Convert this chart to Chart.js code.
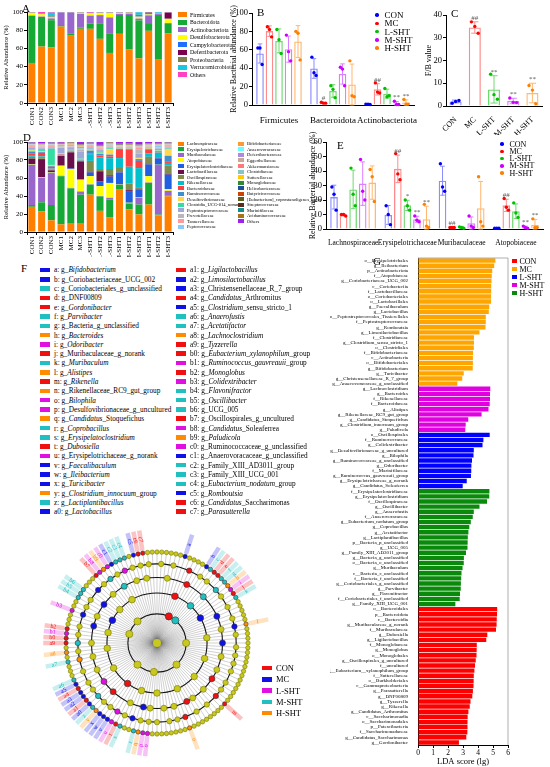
<!DOCTYPE html>
<html lang="en">
<head>
<meta charset="UTF-8">
<title>Gut microbiota composition and LEfSe</title>
<script src="https://cdn.jsdelivr.net/npm/chart.js"></script>
<style>
  body { margin: 0; background: #fff; font-family: 'Liberation Serif', 'Times New Roman', serif; color: #000; }
  #page { position: relative; width: 550px; height: 767px; overflow: hidden; }
  canvas { position: absolute; }
  .letter { position: absolute; font-size: 11px; line-height: 11px; }
</style>
</head>
<body>
<div id="page">
  <canvas id="cA" width="176" height="128" style="left:0;top:0"></canvas>
  <canvas id="cD" width="176" height="127" style="left:0;top:130px"></canvas>
  <canvas id="cB" width="191" height="125" style="left:229px;top:0"></canvas>
  <canvas id="cC" width="122" height="135" style="left:424px;top:0"></canvas>
  <canvas id="cE" width="242" height="115" style="left:308px;top:132px"></canvas>
  <canvas id="cG" width="182" height="517" style="left:330px;top:250px"></canvas>
  <canvas id="cF" width="250" height="250" style="left:32px;top:518px"></canvas>
  <div class="letter" style="left:22px;top:3px">A</div>
  <div class="letter" style="left:257px;top:7px">B</div>
  <div class="letter" style="left:451px;top:8px">C</div>
  <div class="letter" style="left:23px;top:132px">D</div>
  <div class="letter" style="left:337px;top:140px">E</div>
  <div class="letter" style="left:21px;top:263px">F</div>
  <div class="letter" style="left:373px;top:256px">G</div>
</div>
<script>
// ---- samples (A, D) ----
const sampleNames = ['CON1','CON2','CON3','MC1','MC2','MC3','L-SHT1','L-SHT2','L-SHT3','M-SHT1','M-SHT2','M-SHT3','H-SHT1','H-SHT2','H-SHT3'];

// A: phylum level (%)
const firmicutes        = [44,62,61,84,74,81.5,81.5,70.5,55,76,58.7,49,79.3,48.3,76.4];
const bacteroidota      = [51.6,32.5,30,1.6,2,1.5,6,16.5,21,20.7,38,41.8,8.5,48.4,10.6];
const actinobacteriota  = [0.5,0.5,2,13.5,23.1,15.1,8.5,9.5,18,1.3,1.6,2,8.5,1,1];
const desulfobacterota  = [3,2.5,1,0,0,1,2.5,2.5,5,1,0.8,2,1,0.3,4.5];
const campylobacterota  = [0.1,0.1,0.1,0.1,0.1,0.1,0.1,0.1,0.1,0.1,0.1,0.5,1,0.1,0.1];
const deferribacterota  = [0.1,0.1,0.1,0.1,0.1,0.1,0.1,0.1,0.1,0.1,0.1,0.1,1,0.1,6.7];
const proteobacteria    = [0.2,0.2,1,0.2,0.2,0.2,0.2,0.2,0.2,0.2,0.2,1.5,0.2,0.2,0.2];
const verrucomicrobiota = [0.2,0.2,4,0.2,0.2,0.2,0.2,0.2,0.2,0.2,0.2,2.8,0.2,1.3,0.2];
const otherPhyla        = [0.3,1.9,1,0.3,0.3,0.3,0.9,0.3,0.3,0.3,0.3,0.3,0.3,0.3,0.3];
const phylumNames = ['Firmicutes','Bacteroidota','Actinobacteriota','Desulfobacterota','Campylobacterota','Deferribacterota','Proteobacteria','Verrucomicrobiota','Others'];
const phylumColors = ['#ff7f00','#17a935','#9966cc','#ffff00','#1f6fff','#7a0050','#80804a','#18c8e0','#ff40c0'];

// D: family level (%)
const lachno     = [28,23,13,8.5,10,10,41.5,23.5,16.5,47,25,19.5,30.5,18.4,39.7];
const erysipelo  = [2,10,17,53.5,38.5,31.5,11,16,19.5,5.5,6.5,11,24,1,1];
const murib      = [44.5,27,35.5,0.5,0.5,3.5,0.5,0.5,2,0.3,0.5,7.5,0.5,55,5];
const atopo      = [0.5,0.5,0.5,11,21,13,9,11,16.5,0.3,0.5,0.5,7,0.3,2];
const erysClost  = [0.5,0.5,0.5,0.5,0.5,0.5,4,5.5,7,13,13,9,13,7,16];
const lacto      = [6,20,2,10.5,18,20,1,11,1.5,0.5,1,0.5,1,0.5,1];
const oscill     = [2,1,1,0.5,0.5,0.5,12,2.5,7,4.5,7.5,1,7.5,1,9];
const riken      = [2,2,1,0.5,0.5,0.5,7.5,13,12,11,18.5,22,4,5,3];
const bactero    = [2,4,2,0.5,0.5,0.5,1,2,2,10,19,8,4,0.5,2];
const rumino     = [2,1,1,0.5,0.5,0.5,3,2,2,0.5,1,2,1,1,6];
const desulfo    = [1,1,1,0.5,0.5,0.5,1,1,6,0.5,0.5,1,1,0.5,7];
const clostUCG   = [1,1,18,0.5,0.5,0.5,1,1,1,0.3,0.5,1,0.5,0.5,1];
const peptostrep = [2,2,1,6,2.7,8,1,2,1,0.5,0.5,4,0.5,2,1];
const prevot     = [1,1,1,0.5,0.5,2,1,1,1,0.5,0.5,5,0.5,1,1];
const tanner     = [1,1,1,0.5,0.5,0.5,1,1,1,0.5,0.5,2,0.5,0.5,1];
const peptoc     = [1,1,1,0.5,0.5,1,1,1,1,0.3,0.5,0.5,0.5,2,1];
const bifido     = [0.2,0.2,0.2,1.5,1.5,2,0.2,0.2,0.2,0.2,0.2,0.2,0.2,0.2,0.2];
const anaerovor  = [0.2,0.2,0.2,0.2,0.2,0.2,0.2,0.2,0.2,0.2,0.2,0.2,0.2,0.2,0.2];
const deferri    = [0.2,0.2,0.2,0.2,0.2,0.2,0.2,0.2,0.2,0.2,0.2,0.2,0.2,0.2,0.2];
const eggerth    = [0.2,0.2,0.2,0.2,0.2,0.2,0.2,0.2,0.2,0.2,0.2,0.2,0.2,0.2,0.2];
const akkerm     = [0.2,0.2,0.2,0.2,0.2,0.2,0.2,0.2,0.2,0.2,0.2,0.2,0.2,0.2,0.2];
const clostrid   = [0.2,0.2,0.2,0.2,0.2,0.2,0.2,0.2,0.2,0.2,0.2,0.2,0.2,0.2,0.2];
const sutter     = [0.2,0.2,0.2,0.2,0.2,0.2,0.2,0.2,0.2,0.2,0.2,0.2,0.2,0.2,0.2];
const monoglob   = [0.2,0.2,0.2,0.2,0.2,0.2,0.2,0.2,0.2,0.2,0.2,0.2,0.2,0.2,0.2];
const helico     = [0.2,0.2,0.2,0.2,0.2,0.2,0.2,0.2,0.2,0.2,0.2,0.2,0.2,0.2,0.2];
const butyric    = [0.2,0.2,0.2,0.2,0.2,0.2,0.2,0.2,0.2,0.2,0.2,0.2,0.2,0.2,0.2];
const eubCopro   = [0.2,0.2,0.2,0.2,0.2,0.2,0.2,0.2,0.2,0.2,0.2,0.2,0.2,0.2,0.2];
const strepto    = [0.2,0.2,0.2,0.2,0.2,0.2,0.2,0.2,0.2,0.2,0.2,0.2,0.2,0.2,0.2];
const marinif    = [0.2,0.2,0.2,0.2,0.2,0.2,0.2,0.2,0.2,0.2,0.2,0.2,0.2,0.2,0.2];
const acidamino  = [0.2,0.2,0.2,0.2,0.2,0.2,0.2,0.2,0.2,0.2,0.2,0.2,0.2,0.2,0.2];
const otherFam   = [0.7,1.2,0.7,0.9,0.2,2.4,0.7,3.2,0.2,2.0,1.7,2.7,1.2,1.0,0.5];
const familyNames = ['Lachnospiraceae','Erysipelotrichaceae','Muribaculaceae','Atopobiaceae','Erysipelatoclostridiaceae','Lactobacillaceae','Oscillospiraceae','Rikenellaceae','Bacteroidaceae','Ruminococcaceae','Desulfovibrionaceae','Clostridia_UCG-014_norank','Peptostreptococcaceae','Prevotellaceae','Tannerellaceae','Peptococcaceae',
  'Bifidobacteriaceae','Anaerovoracaceae','Deferribacteraceae','Eggerthellaceae','Akkermansiaceae','Clostridiaceae','Sutterellaceae','Monoglobaceae','Helicobacteraceae','Butyricicoccaceae','[Eubacterium]_coprostanoligenes_group','Streptococcaceae','Marinifilaceae','Acidaminococcaceae','Others'];
const familyColors = ['#ff7f00','#17a935','#9966cc','#ffff00','#1f5fe0','#6b0f4a','#7f8c4a','#00c0d0','#ff4040','#3f8fd0','#ffd84d','#33dda0','#a0a8d8','#b8b8b8','#ff9a9a','#8ccaf5',
  '#ff9933','#66ffff','#a98de0','#c8a896','#ff7b7b','#88c4c4','#ffcc00','#2e8b2e','#1c4f9c','#cc4400','#5c5c1f','#5a2e1e','#148c8c','#a8741a','#a020f0'];

// ---- groups (B, C, E) ----
const groupNames = ['CON','MC','L-SHT','M-SHT','H-SHT'];
const dotColors  = ['#0000ff','#ff0000','#00c000','#cc00ff','#ff8000'];
const edgeColors = ['#8c8cff','#ff8c8c','#70d870','#dd80ff','#ffb870'];

// B: phylum abundance (%)
const bCats = ['Firmicutes','Bacteroidota','Actinobacteriota'];
const bCON = [56, 39.7, 0.8],   bCONsd = [10.4, 10.7, 0.3], bCONdots = [[62,62,44],[52,35,32],[1,1,0.5]], bCONmarks = ['','',''];
const bMC  = [80.3, 2.3, 17],   bMCsd  = [5.7, 0.6, 6.1],   bMCdots  = [[85,82,74],[3,2,2],[24,14,13]],   bMCmarks  = ['','#','##'];
const bL   = [69.7, 15.3, 12.3], bLsd  = [13, 6.8, 4.9],    bLdots   = [[82,71,56],[21,17,8],[18,9,10]],  bLmarks   = ['','',''];
const bM   = [60.7, 33.7, 1.7], bMsd   = [14.2, 11, 2],     bMdots   = [[76,58,48],[41,39,21],[4,0.5,0.5]], bMmarks = ['','','**'];
const bH   = [69, 22.3, 2.7],   bHsd   = [17.3, 22.2, 2.9], bHdots   = [[80,78,49],[48,10,9],[6,1,1]],    bHmarks   = ['','','**'];

// C: F/B ratio
const cMean  = [2, 34.5, 7.3, 2.2, 5.7];
const cSd    = [0.6, 2.5, 6, 1.2, 4.3];
const cDots  = [[1.2,2,2.4],[37,35,32],[14,5,3],[3.5,1.6,1.5],[9,7,1]];
const cMarks = ['', '##', '**', '**', '**'];

// E: family abundance (%)
const eCats = ['Lachnospiraceae','Erysipelotrichaceae','Muribaculaceae','Atopobiaceae'];
const eCON = [22, 9.7, 33.3, 0.5],  eCONsd = [8.2, 6.5, 10, 0.2],  eCONdots = [[29,24,13],[16,10,3],[45,29,26],[0.5,0.5,0.5]], eCONmarks = ['','','',''];
const eMC  = [9.7, 41.5, 1, 16.3],  eMCsd  = [0.6, 9.5, 0.3, 4.2], eMCdots  = [[10,10,9],[52,38,34],[1,1,1],[21,15,13]],     eMCmarks  = ['','##','##','##'];
const eL   = [27.3, 16.3, 1, 12.3], eLsd   = [13.3, 3.5, 0.5, 5],  eLdots   = [[42,24,16],[20,16,13],[1.5,1,0.5],[18,11,8]],  eLmarks   = ['','*','',''];
const eM   = [31.3, 6.7, 4, 1.2],   eMsd   = [15, 2.1, 4.3, 0.8],  eMdots   = [[48,26,20],[9,6,5],[9,2,1],[2,1,0.5]],         eMmarks   = ['','**','','**'];
const eH   = [32, 6.7, 14.3, 3],    eHsd   = [11.5, 9, 18.5, 3.5], eHdots   = [[41,36,19],[17,2,1],[36,5,2],[7,1,1]],         eHmarks   = ['','**','','**'];

// G: LDA scores
const ldaMcNames = ['o__Erysipelotrichales','g__Ileibacterium','p__Actinobacteriota','f__Atopobiaceae','g__Coriobacteriaceae_UCG_002','c__Coriobacteriia','f__Lactobacillaceae','o__Coriobacteriales','o__Lactobacillales','g__Faecalibaculum','g__Lactobacillus','o__Peptostreptococcales_Tissierellales','f__Peptostreptococcaceae','g__Romboutsia','g__Limosilactobacillus','f__Clostridiaceae','g__Clostridium_sensu_stricto_1','o__Clostridiales','f__Bifidobacteriaceae','c__Actinobacteria','o__Bifidobacteriales','g__Bifidobacterium','g__Turicibacter','g__Christensenellaceae_R_7_group','g__Anaerovoracaceae_g_unclassified'];
const ldaMcScores = [5.16,5.08,4.95,4.92,4.9,4.88,4.88,4.87,4.87,4.75,4.72,4.52,4.52,4.5,4.1,3.73,3.73,3.72,3.67,3.66,3.66,3.65,3.05,2.95,2.62];
const ldaMNames = ['g__Lachnoclostridium','g__Bacteroides','f__Rikenellaceae','f__Bacteroidaceae','g__Alistipes','g__Rikenellaceae_RC9_gut_group','g__Candidatus_Stoquefichus','g__Clostridium_innocuum_group','g__Paludicola'];
const ldaMScores = [4.82,4.8,4.8,4.78,4.7,4.24,3.35,3.18,3.15];
const ldaLNames = ['o__Oscillospirales','f__Ruminococcaceae','g__Colidextribacter','g__Desulfovibrionaceae_g_uncultured','g__Bilophila','g__Ruminococcaceae_g_unclassified','g__Odoribacter','f__Marinifilaceae','g__Ruminococcus_gauvreauii_group','g__Erysipelotrichaceae_g_norank','g__Candidatus_Soleaferrea'];
const ldaLScores = [4.78,4.36,4.3,3.72,3.7,3.6,3.56,3.55,3.53,3.25,2.98];
const ldaHNames = ['f__Erysipelatoclostridiaceae','g__Erysipelatoclostridium','f__Oscillospiraceae','g__Oscillibacter','g__Anaerofustis','f__Anaerovoracaceae','g__Eubacterium_nodatum_group','g__Coprobacillus','g__Acetatifactor','g__Lactiplantibacillus','p__Bacteria_p_unclassified','g__UCG_005','g__Family_XIII_AD3011_group','g__Bacteria_g_unclassified','o__Bacteria_o_unclassified','g__Muribaculum','c__Bacteria_c_unclassified','f__Bacteria_f_unclassified','g__Coriobacteriales_g_unclassified','g__Parvibacter','g__Flavonifractor','f__Coriobacteriales_f_unclassified','g__Family_XIII_UCG_001'];
const ldaHScores = [4.76,4.75,4.6,4.1,3.72,3.65,3.52,3.42,3.36,3.32,3.31,3.3,3.2,3.06,3.05,2.97,2.9,2.88,2.86,2.85,2.8,2.78,2.49];
const ldaConNames = ['o__Bacteroidales','p__Bacteroidota','c__Bacteroidia','g__Muribaculaceae_g_norank','f__Muribaculaceae','g__Dubosiella','g__Ligilactobacillus','f__Monoglobaceae','g__Monoglobus','o__Monoglobales','g__Oscillospirales_g_uncultured','f__uncultured','g__Eubacterium__xylanophilum_group','f__Sutterellaceae','o__Burkholderiales','c__Gammaproteobacteria','g__Parasutterella','g__DNF00809','g__Tyzzerella','g__Rikenella','g__Candidatus_Arthromitus','c__Saccharimonadia','o__Saccharimonadales','p__Patescibacteria','f__Saccharimonadaceae','g__Candidatus_Saccharimonas','g__Gordonibacter'];
const ldaConScores = [5.28,5.27,5.25,5.24,5.2,4.62,4.55,3.92,3.91,3.9,3.85,3.8,3.76,3.72,3.71,3.7,3.66,3.62,3.5,3.45,3.36,3.31,3.3,3.3,3.29,3.22,2.73];
const ldaLegendColors = ['#ff0000','#ffa500','#0000ff','#e000e0','#0a8a0a'];

// F: cladogram biomarkers (colour index: 0 CON, 1 MC, 2 L-SHT, 3 M-SHT, 4 H-SHT)
const cladeColors = ['#f01010','#1010e8','#e010e0','#20c0c0','#ff8c00'];
const tagLetters = ['a','b','c','d','e','f','g','h','i','j','k','l','m','n','o','p','q','r','s','t','u','v','w','x','y','z','a0',
  'a1','a2','a3','a4','a5','a6','a7','a8','a9','b0','b1','b2','b3','b4','b5','b6','b7','b8','b9','c0','c1','c2','c3','c4','c5','c6','c7'];
const tagNames = ['g_*Bifidobacterium*','g_Coriobacteriaceae_UCG_002','g_Coriobacteriales_g_unclassified','g_DNF00809','g_*Gordonibacter*','g_*Parvibacter*','g_Bacteria_g_unclassified','g_*Bacteroides*','g_*Odoribacter*','g_Muribaculaceae_g_norank','g_*Muribaculum*','g_*Alistipes*','g_*Rikenella*','g_Rikenellaceae_RC9_gut_group','g_*Bilophila*','g_Desulfovibrionaceae_g_uncultured','g_*Candidatus*_Stoquefichus','g_*Coprobacillus*','g_*Erysipelatoclostridium*','g_*Dubosiella*','g_Erysipelotrichaceae_g_norank','g_*Faecalibaculum*','g_*Ileibacterium*','g_*Turicibacter*','g_*Clostridium_innocuum*_group','g_*Lactiplantibacillus*','g_*Lactobacillus*',
  'g_*Ligilactobacillus*','g_*Limosilactobacillus*','g_Christensenellaceae_R_7_group','g_*Candidatus*_Arthromitus','g_*Clostridium*_sensu_stricto_1','g_*Anaerofustis*','g_*Acetatifactor*','g_*Lachnoclostridium*','g_*Tyzzerella*','g_*Eubacterium_xylanophilum*_group','g_*Ruminococcus_gauvreauii*_group','g_*Monoglobus*','g_*Colidextribacter*','g_*Flavonifractor*','g_*Oscillibacter*','g_UCG_005','g_Oscillospirales_g_uncultured','g_*Candidatus*_Soleaferrea','g_*Paludicola*','g_Ruminococcaceae_g_unclassified','g_Anaerovoracaceae_g_unclassified','g_Family_XIII_AD3011_group','g_Family_XIII_UCG_001','g_*Eubacterium_nodatum*_group','g_*Romboutsia*','g_*Candidatus*_Saccharimonas','g_*Parasutterella*'];
const tagGroups = [1,1,3,0,0,3,3,4,2,0,3,4,0,4,2,2,4,3,3,0,2,1,1,1,4,3,1,
  0,1,1,0,1,3,3,4,0,0,2,0,2,3,3,3,0,2,4,2,1,3,3,3,1,0,0];
const tagSlots = [6,11,12,13,14,15,16,17,18,19,20,26,44,53,62,63,64,65,68,69,70,71,72,73,74,75,76,77,78,79,80,81,82,86,88,90,91,92,93,97,100,101,102,106,107,108,109,110,111,112,113,115,116,117];
const cladeSlotCount = 120;
const ringValue = [1.6, 2.75, 3.6, 4.35, 5];
const ringSize  = [3.6, 3.3, 3.0, 2.7, 2.2];
const phylumSlots = [8,13,30,46,62,74,96,106];
const classSlots  = [7,14,20,28,36,44,52,60,66,72,80,88,94,99,104,110];
const orderSlots  = [3,9,15,22,26,30,34,38,41,45,49,51,55,58,62,64,68,74,78,82,86,90,95,98,102,106,110,114,117];
const familySlots = [1,4,8,11,13,16,18,21,24,26,28,31,33,35,37,40,42,44,47,50,53,55,57,60,62,64,66,68,70,72,74,76,78,80,83,86,88,90,92,94,97,99,101,104,106,108,110,112,114,116,118];
const hiSlot  = [8,7,9,8,13,14,15,16,20,22,26,30,41,44,51,53,64,66,72,74,70,76,78,86,90,95,97,99,102,104,108,110,112];
const hiLevel = [1,2,3,4,1,2,3,4,2,3,4,3,3,4,3,4,3,4,2,3,4,4,3,4,4,3,4,2,3,4,4,3,4];
const hiGroup = [0,0,0,0,3,3,3,3,1,1,1,1,0,0,0,0,1,1,0,0,2,3,2,4,3,1,1,1,1,1,3,3,2];

// ---------------------------------------------------------------
Chart.defaults.font.family = "'Liberation Serif', 'Times New Roman', serif";
Chart.defaults.font.size = 8;
Chart.defaults.color = '#000';
Chart.defaults.animation = false;
Chart.defaults.events = [];
Chart.defaults.plugins.legend.display = false;
Chart.defaults.plugins.tooltip.enabled = false;

const page = document.getElementById('page');
const tickGrid = { drawOnChartArea: false, color: '#000', tickLength: 3, lineWidth: 1 };
const blackBorder = { color: '#000', width: 1 };
const fixW = w => s => { s.width = w; s.paddingTop = 0; s.paddingBottom = 0; };
const fixH = h => s => { s.height = h; s.paddingLeft = 0; s.paddingRight = 0; };

// error bars, points and significance marks on top of the bars
const errDots = {
  id: 'errDots',
  afterDatasetsDraw(chart) {
    const ctx = chart.ctx, y = chart.scales.y;
    chart.data.datasets.forEach((ds, di) => {
      chart.getDatasetMeta(di).data.forEach((bar, i) => {
        const pick = v => Array.isArray(v) ? v[i] : v;
        const m = ds.data[i], sd = ds.sd[i];
        const yTop = y.getPixelForValue(m + sd), yBot = y.getPixelForValue(Math.max(m - sd, 0));
        const cap = bar.width * 0.3;
        ctx.save();
        ctx.strokeStyle = pick(ds.borderColor);
        ctx.lineWidth = 1;
        ctx.beginPath();
        ctx.moveTo(bar.x, yTop); ctx.lineTo(bar.x, yBot);
        ctx.moveTo(bar.x - cap, yTop); ctx.lineTo(bar.x + cap, yTop);
        ctx.moveTo(bar.x - cap, yBot); ctx.lineTo(bar.x + cap, yBot);
        ctx.stroke();
        ctx.fillStyle = pick(ds.dotColor);
        ds.dots[i].forEach((v, k) => {
          ctx.beginPath();
          ctx.arc(bar.x + (k - 1) * bar.width * 0.28, y.getPixelForValue(v), 1.7, 0, Math.PI * 2);
          ctx.fill();
        });
        if (ds.marks[i]) {
          ctx.fillStyle = '#555';
          ctx.font = "7px 'Liberation Serif'";
          ctx.textAlign = 'center';
          ctx.textBaseline = 'bottom';
          ctx.fillText(ds.marks[i], bar.x, yTop - 0.5);
        }
        ctx.restore();
      });
    });
  }
};

function legend(left, top, rowH, labels, colors, o) {
  const box = document.createElement('div');
  box.style.cssText = `position:absolute;left:${left}px;top:${top}px;font-size:${o.font}px;`;
  labels.forEach((t, k) => {
    const row = document.createElement('div');
    row.style.cssText = `height:${rowH}px;display:flex;align-items:center;white-space:nowrap;`;
    row.innerHTML = `<span style="display:inline-block;flex:none;width:${o.w}px;height:${o.h}px;background:${colors[k]};border-radius:${o.round ? '50%' : '0'};margin-right:${o.gap}px"></span>${t}`;
    box.appendChild(row);
  });
  page.appendChild(box);
}

// ---- A and D: stacked composition ----
function stackChart(id, names, series, colors, padTop) {
  new Chart(document.getElementById(id), {
    type: 'bar',
    data: {
      labels: sampleNames,
      datasets: series.map((d, k) => ({ label: names[k], data: d, backgroundColor: colors[k], borderWidth: 0, barPercentage: 0.72, categoryPercentage: 1 }))
    },
    options: {
      responsive: false,
      layout: { padding: { top: padTop, right: 3 } },
      scales: {
        x: { stacked: true, border: blackBorder, grid: tickGrid,
             ticks: { autoSkip: false, minRotation: 90, maxRotation: 90, font: { size: 7 }, padding: 1 }, afterFit: fixH(25) },
        y: { stacked: true, min: 0, max: 100, border: blackBorder, grid: tickGrid,
             ticks: { stepSize: 20, font: { size: 7 }, padding: 1 },
             title: { display: true, text: 'Relative Abundance (%)', font: { size: 6.5 }, padding: { top: 2, bottom: 0 } },
             afterFit: fixW(27) }
      }
    }
  });
}
stackChart('cA', phylumNames,
  [firmicutes, bacteroidota, actinobacteriota, desulfobacterota, campylobacterota, deferribacterota, proteobacteria, verrucomicrobiota, otherPhyla],
  phylumColors, 12);
stackChart('cD', familyNames,
  [lachno, erysipelo, murib, atopo, erysClost, lacto, oscill, riken, bactero, rumino, desulfo, clostUCG, peptostrep, prevot, tanner, peptoc,
   bifido, anaerovor, deferri, eggerth, akkerm, clostrid, sutter, monoglob, helico, butyric, eubCopro, strepto, marinif, acidamino, otherFam],
  familyColors, 12);
legend(178, 11.2, 7.5, phylumNames, phylumColors, { font: 5.8, w: 9, h: 5, gap: 3 });
legend(178, 141.2, 5.53, familyNames.slice(0, 16), familyColors.slice(0, 16), { font: 4.6, w: 6, h: 4, gap: 3 });
legend(238, 141.2, 5.53, familyNames.slice(16), familyColors.slice(16), { font: 4.6, w: 6, h: 4, gap: 3 });

// ---- B and E: grouped bars with points ----
function groupChart(id, cats, sets, o) {
  new Chart(document.getElementById(id), {
    type: 'bar',
    data: {
      labels: cats,
      datasets: sets.map((s, k) => ({
        label: groupNames[k], data: s[0], sd: s[1], dots: s[2], marks: s[3],
        backgroundColor: 'rgba(255,255,255,0)', borderColor: edgeColors[k], dotColor: dotColors[k],
        borderWidth: 1.3, barPercentage: 0.8, categoryPercentage: 0.88
      }))
    },
    options: {
      responsive: false,
      layout: { padding: { top: o.top, right: o.right } },
      scales: {
        x: { border: blackBorder, grid: { display: false },
             ticks: { autoSkip: false, minRotation: 0, maxRotation: 0, font: { size: o.xFont }, padding: 2 }, afterFit: fixH(o.xH) },
        y: { min: 0, max: o.max, border: blackBorder, grid: tickGrid,
             ticks: { stepSize: o.step, font: { size: 8.5 }, padding: 1 },
             title: { display: true, text: 'Relative Bacterial abundance (%)', font: { size: 8 }, padding: 0 },
             afterFit: fixW(o.yW) }
      }
    },
    plugins: [errDots]
  });
}
groupChart('cB', bCats, [
  [bCON, bCONsd, bCONdots, bCONmarks], [bMC, bMCsd, bMCdots, bMCmarks], [bL, bLsd, bLdots, bLmarks],
  [bM, bMsd, bMdots, bMmarks], [bH, bHsd, bHdots, bHmarks]
], { top: 13, right: 6, max: 100, step: 20, xFont: 9, xH: 20, yW: 23 });
groupChart('cE', eCats, [
  [eCON, eCONsd, eCONdots, eCONmarks], [eMC, eMCsd, eMCdots, eMCmarks], [eL, eLsd, eLdots, eLmarks],
  [eM, eMsd, eMdots, eMmarks], [eH, eHsd, eHdots, eHmarks]
], { top: 10, right: 7, max: 60, step: 10, xFont: 7.5, xH: 18, yW: 18 });
legend(375, 10.9, 8.3, groupNames, dotColors, { font: 9, w: 3.5, h: 3.5, round: true, gap: 6 });
legend(500, 140.4, 7.3, groupNames, dotColors, { font: 8, w: 3.5, h: 3.5, round: true, gap: 6 });

// ---- C: F/B ratio ----
new Chart(document.getElementById('cC'), {
  type: 'bar',
  data: {
    labels: groupNames,
    datasets: [{ data: cMean, sd: cSd, dots: cDots, marks: cMarks,
      backgroundColor: 'rgba(255,255,255,0)', borderColor: edgeColors, dotColor: dotColors,
      borderWidth: 1.3, barPercentage: 0.7, categoryPercentage: 0.9 }]
  },
  options: {
    responsive: false,
    layout: { padding: { top: 15, right: 4 } },
    scales: {
      x: { border: blackBorder, grid: { display: false },
           ticks: { autoSkip: false, minRotation: 45, maxRotation: 45, font: { size: 8 }, padding: 1 }, afterFit: fixH(29) },
      y: { min: 0, max: 40, border: blackBorder, grid: tickGrid,
           ticks: { stepSize: 10, font: { size: 8.5 }, padding: 1 },
           title: { display: true, text: 'F/B value', font: { size: 8 }, padding: 0 },
           afterFit: fixW(22) }
    }
  },
  plugins: [errDots]
});

// ---- G: LDA bars ----
const ldaNames  = [...ldaMcNames, ...ldaMNames, ...ldaLNames, ...ldaHNames, ...ldaConNames];
const ldaScores = [...ldaMcScores, ...ldaMScores, ...ldaLScores, ...ldaHScores, ...ldaConScores];
const ldaColors = [
  ...ldaMcNames.map(() => ldaLegendColors[1]), ...ldaMNames.map(() => ldaLegendColors[3]),
  ...ldaLNames.map(() => ldaLegendColors[2]), ...ldaHNames.map(() => ldaLegendColors[4]),
  ...ldaConNames.map(() => ldaLegendColors[0])
];
const frame = {
  id: 'frame',
  afterDraw(chart) {
    const { ctx, chartArea: a } = chart;
    ctx.save();
    ctx.strokeStyle = '#999';
    ctx.lineWidth = 0.8;
    ctx.beginPath();
    ctx.moveTo(a.left, a.top); ctx.lineTo(a.right, a.top); ctx.lineTo(a.right, a.bottom);
    ctx.stroke();
    ctx.restore();
  }
};
new Chart(document.getElementById('cG'), {
  type: 'bar',
  data: { labels: ldaNames, datasets: [{ data: ldaScores, backgroundColor: ldaColors, borderWidth: 0, barPercentage: 0.86, categoryPercentage: 1 }] },
  options: {
    indexAxis: 'y',
    responsive: false,
    layout: { padding: { top: 8, right: 4 } },
    scales: {
      y: { border: blackBorder, grid: { display: false }, ticks: { autoSkip: false, font: { size: 5 }, padding: 2 }, afterFit: fixW(88) },
      x: { min: 0, max: 6, border: blackBorder, grid: tickGrid, ticks: { stepSize: 1, font: { size: 7.5 }, padding: 1 },
           title: { display: true, text: 'LDA score (lg)', font: { size: 8.5 }, padding: 0 }, afterFit: fixH(22) }
    }
  },
  plugins: [frame]
});
legend(512, 257, 8, groupNames, ldaLegendColors, { font: 8, w: 4.5, h: 4.5, gap: 3 });

// ---- F: cladogram on a radial scale ----
const slotLabels = Array.from({ length: cladeSlotCount }, (_, i) => String(i));
const genusSlots = slotLabels.map((_, i) => i);
const ringSlots = [phylumSlots, classSlots, orderSlots, familySlots, genusSlots];
const cladeSets = ringValue.map((v, L) => {
  const data = slotLabels.map(() => null);
  const fill = slotLabels.map(() => '#c8c81e');
  const edge = slotLabels.map(() => '#767600');
  ringSlots[L].forEach(s => { data[s] = v; });
  const mark = (s, g) => { data[s] = v; fill[s] = cladeColors[g]; edge[s] = '#333'; };
  hiSlot.forEach((s, k) => { if (hiLevel[k] === L + 1) mark(s, hiGroup[k]); });
  if (L === 4) tagSlots.forEach((s, k) => mark(s, tagGroups[k]));
  return { data, pointBackgroundColor: fill, pointBorderColor: edge, pointBorderWidth: 0.6,
           pointRadius: ringSize[L], borderWidth: 0, borderColor: 'rgba(0,0,0,0)', fill: false };
});
const rootData = slotLabels.map((_, i) => i === 0 ? 0 : null);
cladeSets.push({ data: rootData, pointBackgroundColor: '#c8c81e', pointBorderColor: '#767600', pointRadius: 4, borderWidth: 0, borderColor: 'rgba(0,0,0,0)', fill: false });

const cladeTags = {
  id: 'cladeTags',
  beforeDatasetsDraw(chart) {
    const r = chart.scales.r, ctx = chart.ctx;
    tagSlots.forEach((s, k) => {
      const c = cladeColors[tagGroups[k]];
      const a = r.getPointPositionForValue(s, 5.15), b = r.getPointPositionForValue(s, 6.25);
      ctx.save();
      ctx.strokeStyle = c;
      ctx.globalAlpha = 0.25;
      ctx.lineWidth = 4.5;
      ctx.beginPath(); ctx.moveTo(a.x, a.y); ctx.lineTo(b.x, b.y); ctx.stroke();
      ctx.globalAlpha = 1;
      const t = r.getPointPositionForValue(s, 5.6);
      const ang = r.getIndexAngle(s) - Math.PI / 2;
      const flip = Math.cos(ang) < 0;
      ctx.translate(t.x, t.y);
      ctx.rotate(flip ? ang + Math.PI : ang);
      ctx.fillStyle = c;
      ctx.font = "6px 'Liberation Serif'";
      ctx.textAlign = flip ? 'right' : 'left';
      ctx.textBaseline = 'middle';
      ctx.fillText(tagLetters[k], 0, 0);
      ctx.restore();
    });
  }
};
new Chart(document.getElementById('cF'), {
  type: 'radar',
  data: { labels: slotLabels, datasets: cladeSets },
  options: {
    responsive: false,
    layout: { padding: 34 },
    scales: {
      r: {
        min: 0, max: 5,
        ticks: { display: false },
        pointLabels: { display: false },
        grid: { circular: true, color: '#111', lineWidth: 1.1 },
        angleLines: { display: true, color: 'rgba(40,40,40,0.55)', lineWidth: 0.4 },
        afterBuildTicks: s => { s.ticks = [0, ...ringValue.slice(0, 4)].map(v => ({ value: v })); }
      }
    }
  },
  plugins: [cladeTags]
});
legend(262, 662.4, 11.3, groupNames, cladeColors, { font: 8.5, w: 10, h: 4.5, gap: 4 });

// F list of biomarker genera
const italic = t => t.replace(/\*(.+?)\*/g, '<i>$1</i>');
const tagText = tagLetters.map((l, k) => `${l}: ${italic(tagNames[k])}`);
const tagSwatch = tagGroups.map(g => cladeColors[g]);
legend(40, 265.35, 9.3, tagText.slice(0, 27), tagSwatch.slice(0, 27), { font: 7.3, w: 10, h: 4.5, gap: 4 });
legend(176, 265.35, 9.3, tagText.slice(27), tagSwatch.slice(27), { font: 7.3, w: 10, h: 4.5, gap: 4 });
</script>
</body>
</html>
